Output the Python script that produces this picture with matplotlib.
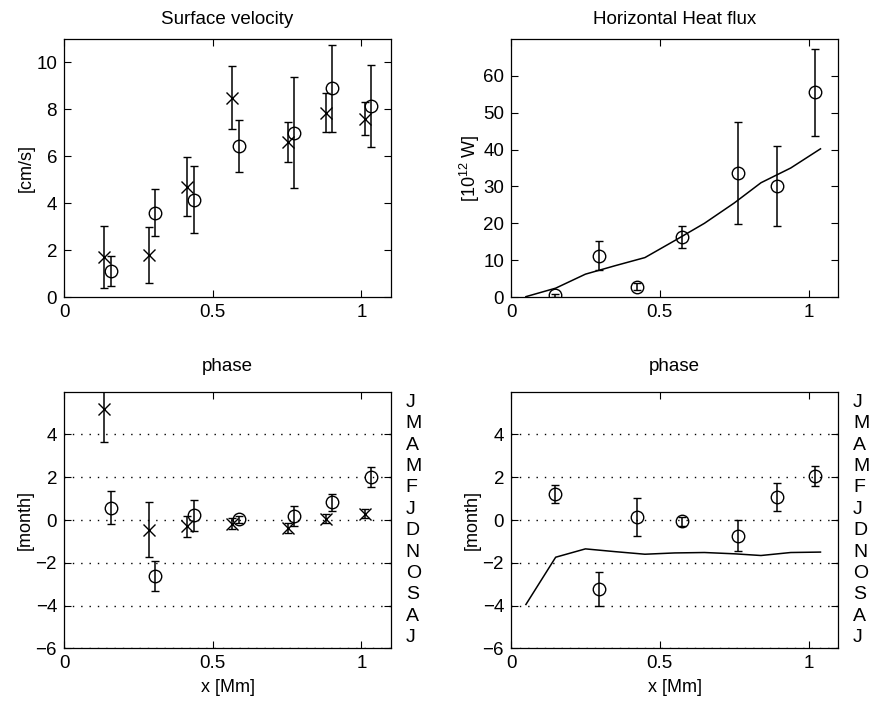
import matplotlib
matplotlib.use("Agg")
import matplotlib.pyplot as plt
import matplotlib.transforms as mtransforms

plt.rcParams['font.family'] = ['Liberation Sans', 'DejaVu Sans']
plt.rcParams['font.size'] = 13
plt.rcParams['mathtext.fontset'] = 'custom'
plt.rcParams['mathtext.rm'] = 'Liberation Sans'

# surface velocity, crosses and circles
vel_x_x = [0.135, 0.285, 0.415, 0.565, 0.754, 0.881, 1.012]
vel_x = [1.7, 1.8, 4.7, 8.5, 6.6, 7.85, 7.6]
vel_x_err = [1.33, 1.2, 1.25, 1.35, 0.85, 0.83, 0.7]
vel_o_x = [0.157, 0.306, 0.436, 0.587, 0.775, 0.903, 1.034]
vel_o = [1.1, 3.6, 4.15, 6.45, 7.0, 8.9, 8.15]
vel_o_err = [0.63, 1.0, 1.43, 1.1, 2.37, 1.86, 1.74]

# horizontal heat flux
hf_x = [0.147, 0.295, 0.425, 0.575, 0.763, 0.893, 1.023]
hf = [0.5, 11.2, 2.8, 16.3, 33.6, 30.1, 55.6]
hf_err = [0.4, 3.9, 1.0, 3.0, 13.8, 10.9, 11.8]
model_x = [0.05, 0.15, 0.25, 0.35, 0.45, 0.55, 0.65, 0.75, 0.84, 0.94, 1.04]
hf_model = [0.1, 2.4, 6.2, 8.5, 10.7, 15.3, 20.0, 25.5, 31.0, 35.0, 40.2]

# phase (velocity)
ph_x = [5.2, -0.45, -0.3, -0.18, -0.38, 0.07, 0.3]
ph_x_err = [1.53, 1.3, 0.48, 0.26, 0.25, 0.2, 0.2]
ph_o = [0.58, -2.64, 0.22, 0.03, 0.2, 0.82, 2.02]
ph_o_err = [0.76, 0.7, 0.73, 0.17, 0.47, 0.38, 0.47]

# phase (heat flux)
phh = [1.22, -3.22, 0.14, -0.06, -0.73, 1.06, 2.06]
phh_err = [0.41, 0.8, 0.9, 0.2, 0.71, 0.66, 0.47]
phh_model = [-3.95, -1.74, -1.35, -1.48, -1.6, -1.54, -1.52, -1.58, -1.66, -1.52, -1.5]

months = ['J', 'M', 'A', 'M', 'F', 'J', 'D', 'N', 'O', 'S', 'A', 'J']

fig = plt.figure(figsize=(8.7, 7.05), dpi=100)
ax1 = fig.add_axes([0.0736, 0.5787, 0.3759, 0.366])
ax2 = fig.add_axes([0.5874, 0.5787, 0.3762, 0.366])
ax3 = fig.add_axes([0.0736, 0.0804, 0.3759, 0.364])
ax4 = fig.add_axes([0.5874, 0.0804, 0.3762, 0.364])

ebkw = dict(color='k', ecolor='k', elinewidth=1.1, capsize=3, capthick=1.1,
            linestyle='none', markersize=9, markeredgewidth=1.0)


def circles(ax, x, y, err):
    ax.errorbar(x, y, yerr=err, fmt='o', mfc='none', mec='k', **ebkw)


def crosses(ax, x, y, err):
    ax.errorbar(x, y, yerr=err, fmt='x', mec='k', **ebkw)


crosses(ax1, vel_x_x, vel_x, vel_x_err)
circles(ax1, vel_o_x, vel_o, vel_o_err)
ax1.set_ylim(0, 11)
ax1.set_yticks([0, 2, 4, 6, 8, 10])
ax1.set_title("Surface velocity", fontsize=13.5, pad=11)
ax1.set_ylabel("[cm/s]", labelpad=1)

circles(ax2, hf_x, hf, hf_err)
ax2.plot(model_x, hf_model, color='k', lw=1.1)
ax2.set_ylim(0, 70)
ax2.set_yticks([0, 10, 20, 30, 40, 50, 60])
ax2.set_title("Horizontal Heat flux", fontsize=13.5, pad=11)
ax2.set_ylabel("[10$^{12}$ W]", labelpad=1)

crosses(ax3, vel_x_x, ph_x, ph_x_err)
circles(ax3, vel_o_x, ph_o, ph_o_err)

circles(ax4, hf_x, phh, phh_err)
ax4.plot(model_x, phh_model, color='k', lw=1.1)

for ax in (ax3, ax4):
    ax.set_ylim(-6, 6)
    ax.set_yticks([-6, -4, -2, 0, 2, 4])
    ax.yaxis.grid(True, linestyle=(0, (1, 5)), color='k', lw=1)
    ax.set_title("phase", fontsize=13.5, pad=15)
    ax.set_ylabel("[month]", labelpad=1)
    ax.set_xlabel("x [Mm]", labelpad=5)
    trans = mtransforms.blended_transform_factory(ax.transAxes, ax.transData)
    for i, m in enumerate(months):
        ax.text(1.045, 5.5 - i, m, transform=trans, ha='left', va='center',
                fontsize=14)

for ax in (ax1, ax2, ax3, ax4):
    ax.set_xlim(0, 1.1)
    ax.set_xticks([0, 0.5, 1])
    ax.set_xticklabels(['0', '0.5', '1'])
    ax.tick_params(direction='in', top=True, right=True, length=5, width=0.8,
                   labelsize=13.5, pad=5)
    for s in ax.spines.values():
        s.set_linewidth(0.9)

fig.savefig("out.png", dpi=100)
